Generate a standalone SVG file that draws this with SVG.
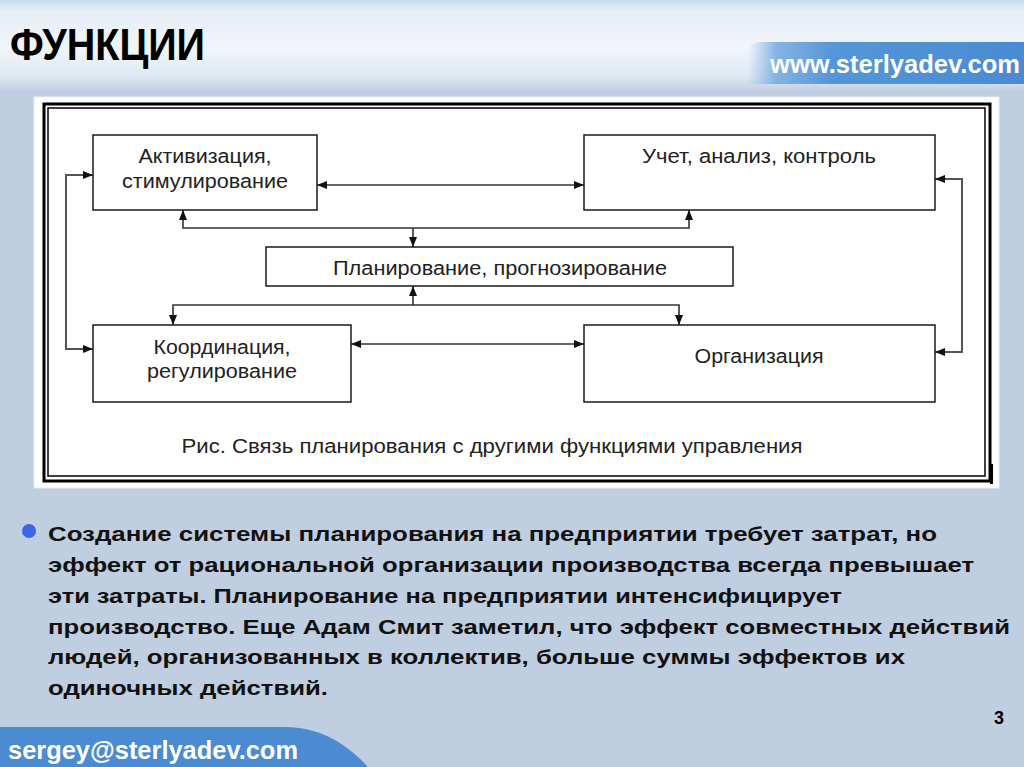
<svg xmlns="http://www.w3.org/2000/svg" width="1024" height="767" viewBox="0 0 1024 767">
  <defs>
    <linearGradient id="hdr" x1="0" y1="0" x2="0" y2="1">
      <stop offset="0" stop-color="#c9dbee"/>
      <stop offset="0.12" stop-color="#e6eef7"/>
      <stop offset="0.55" stop-color="#f1f5fa"/>
      <stop offset="0.85" stop-color="#dde7f2"/>
      <stop offset="1" stop-color="#c3d2e3"/>
    </linearGradient>
    <linearGradient id="band" x1="0" y1="0" x2="1" y2="0">
      <stop offset="0" stop-color="#7fb0e2" stop-opacity="0"/>
      <stop offset="0.1" stop-color="#74aae0" stop-opacity="0.85"/>
      <stop offset="0.3" stop-color="#5596d8"/>
      <stop offset="1" stop-color="#4a8ad2"/>
    </linearGradient>
    <marker id="ah" viewBox="0 0 10 8" refX="10" refY="4" markerWidth="10" markerHeight="8" markerUnits="userSpaceOnUse" orient="auto-start-reverse">
      <path d="M0,0 L10,4 L0,8 Z" fill="#111"/>
    </marker>
    <style>
      .box { fill: #ffffff; stroke: #1a1a1a; stroke-width: 1.5; }
      .lbl { font-family: "Liberation Sans", Arial, sans-serif; font-size: 20px; fill: #222; text-anchor: middle; }
      .con { fill: none; stroke: #333; stroke-width: 1.6; }
      .loop { fill: none; stroke: #555; stroke-width: 2; }
      .body { font-family: "Liberation Sans", Arial, sans-serif; font-weight: bold; font-size: 21px; fill: #111; }
    </style>
  </defs>

  <!-- page background -->
  <rect x="0" y="0" width="1024" height="767" fill="#bfcfe1"/>
  <!-- header -->
  <rect x="0" y="0" width="1024" height="90" fill="url(#hdr)"/>
  <path d="M748,84 L748,54 Q748,42 762,42 L1024,42 L1024,84 Z" fill="url(#band)"/>
  <text x="10" y="60" font-family="'Liberation Sans', Arial, sans-serif" font-weight="bold" font-size="44" fill="#000" textLength="195" lengthAdjust="spacingAndGlyphs">ФУНКЦИИ</text>
  <text x="770" y="73" font-family="'Liberation Sans', Arial, sans-serif" font-weight="bold" font-size="26" fill="#ffffff" textLength="250" lengthAdjust="spacingAndGlyphs">www.sterlyadev.com</text>

  <!-- diagram panel -->
  <g id="panel">
    <rect x="34" y="97" width="965" height="391" fill="#ffffff" stroke="#e8eef5" stroke-width="1"/>
    <rect x="44" y="104" width="946" height="377" fill="none" stroke="#000" stroke-width="3"/>
    <rect x="48" y="108" width="937" height="368" fill="none" stroke="#000" stroke-width="1.5"/>
    <rect x="990" y="464" width="3" height="20" fill="#000"/>
  </g>

  <g id="connectors">
    <!-- left loop -->
    <polyline class="loop" points="93,175 66,175 66,349 93,349" marker-start="url(#ah)" marker-end="url(#ah)"/>
    <!-- right loop -->
    <polyline class="loop" points="935,179 962,179 962,352 935,352" marker-start="url(#ah)" marker-end="url(#ah)"/>
    <!-- box1 <-> box2 -->
    <line class="con" x1="317" y1="185" x2="584" y2="185" marker-start="url(#ah)" marker-end="url(#ah)"/>
    <!-- box3 <-> box4 -->
    <line class="con" x1="351" y1="344" x2="584" y2="344" marker-start="url(#ah)" marker-end="url(#ah)"/>
    <!-- top bus -->
    <polyline class="con" points="183,210 183,228 689,228 689,210" marker-start="url(#ah)" marker-end="url(#ah)"/>
    <line class="con" x1="413" y1="228" x2="413" y2="247" marker-end="url(#ah)"/>
    <!-- bottom bus -->
    <line class="con" x1="413" y1="305" x2="413" y2="286" marker-end="url(#ah)"/>
    <polyline class="con" points="173,325 173,305 679,305 679,325" marker-start="url(#ah)" marker-end="url(#ah)"/>
  </g>

  <g id="node-activation">
    <rect class="box" x="93" y="135" width="224" height="75"/>
    <text class="lbl" x="205" y="163" textLength="133" lengthAdjust="spacingAndGlyphs">Активизация,</text>
    <text class="lbl" x="205" y="188" textLength="166" lengthAdjust="spacingAndGlyphs">стимулирование</text>
  </g>
  <g id="node-control">
    <rect class="box" x="584" y="135" width="351" height="75"/>
    <text class="lbl" x="759" y="163" textLength="234" lengthAdjust="spacingAndGlyphs">Учет, анализ, контроль</text>
  </g>
  <g id="node-planning">
    <rect class="box" x="266" y="247" width="467" height="39"/>
    <text class="lbl" x="500" y="275" textLength="334" lengthAdjust="spacingAndGlyphs">Планирование,  прогнозирование</text>
  </g>
  <g id="node-coordination">
    <rect class="box" x="93" y="325" width="258" height="77"/>
    <text class="lbl" x="222" y="354" textLength="137" lengthAdjust="spacingAndGlyphs">Координация,</text>
    <text class="lbl" x="222" y="378" textLength="150" lengthAdjust="spacingAndGlyphs">регулирование</text>
  </g>
  <g id="node-organization">
    <rect class="box" x="584" y="325" width="351" height="77"/>
    <text class="lbl" x="759" y="363" textLength="129" lengthAdjust="spacingAndGlyphs">Организация</text>
  </g>
  <text class="lbl" x="492" y="453" textLength="621" lengthAdjust="spacingAndGlyphs">Рис. Связь планирования  с другими функциями  управления</text>

  <!-- bullet text -->
  <circle cx="29" cy="531" r="7" fill="#3a66e6"/>
  <text class="body" x="48" y="541" textLength="889" lengthAdjust="spacingAndGlyphs">Создание системы планирования на предприятии требует затрат, но</text>
  <text class="body" x="48" y="572" textLength="926" lengthAdjust="spacingAndGlyphs">эффект от рациональной организации производства всегда превышает</text>
  <text class="body" x="48" y="603" textLength="794" lengthAdjust="spacingAndGlyphs">эти затраты. Планирование на предприятии интенсифицирует</text>
  <text class="body" x="48" y="634" textLength="962" lengthAdjust="spacingAndGlyphs">производство. Еще Адам Смит заметил, что эффект совместных действий</text>
  <text class="body" x="48" y="664" textLength="857" lengthAdjust="spacingAndGlyphs">людей, организованных в коллектив, больше суммы эффектов их</text>
  <text class="body" x="48" y="695" textLength="280" lengthAdjust="spacingAndGlyphs">одиночных действий.</text>

  <!-- page number -->
  <text x="994" y="724" font-family="'Liberation Sans', Arial, sans-serif" font-weight="bold" font-size="18" fill="#000">3</text>

  <!-- footer -->
  <path d="M0,727 L285,727 C318,727 345,742 368,767 L0,767 Z" fill="#4a8bd1"/>
  <text x="8" y="759" font-family="'Liberation Sans', Arial, sans-serif" font-weight="bold" font-size="25" fill="#ffffff" textLength="290" lengthAdjust="spacingAndGlyphs">sergey@sterlyadev.com</text>
</svg>
